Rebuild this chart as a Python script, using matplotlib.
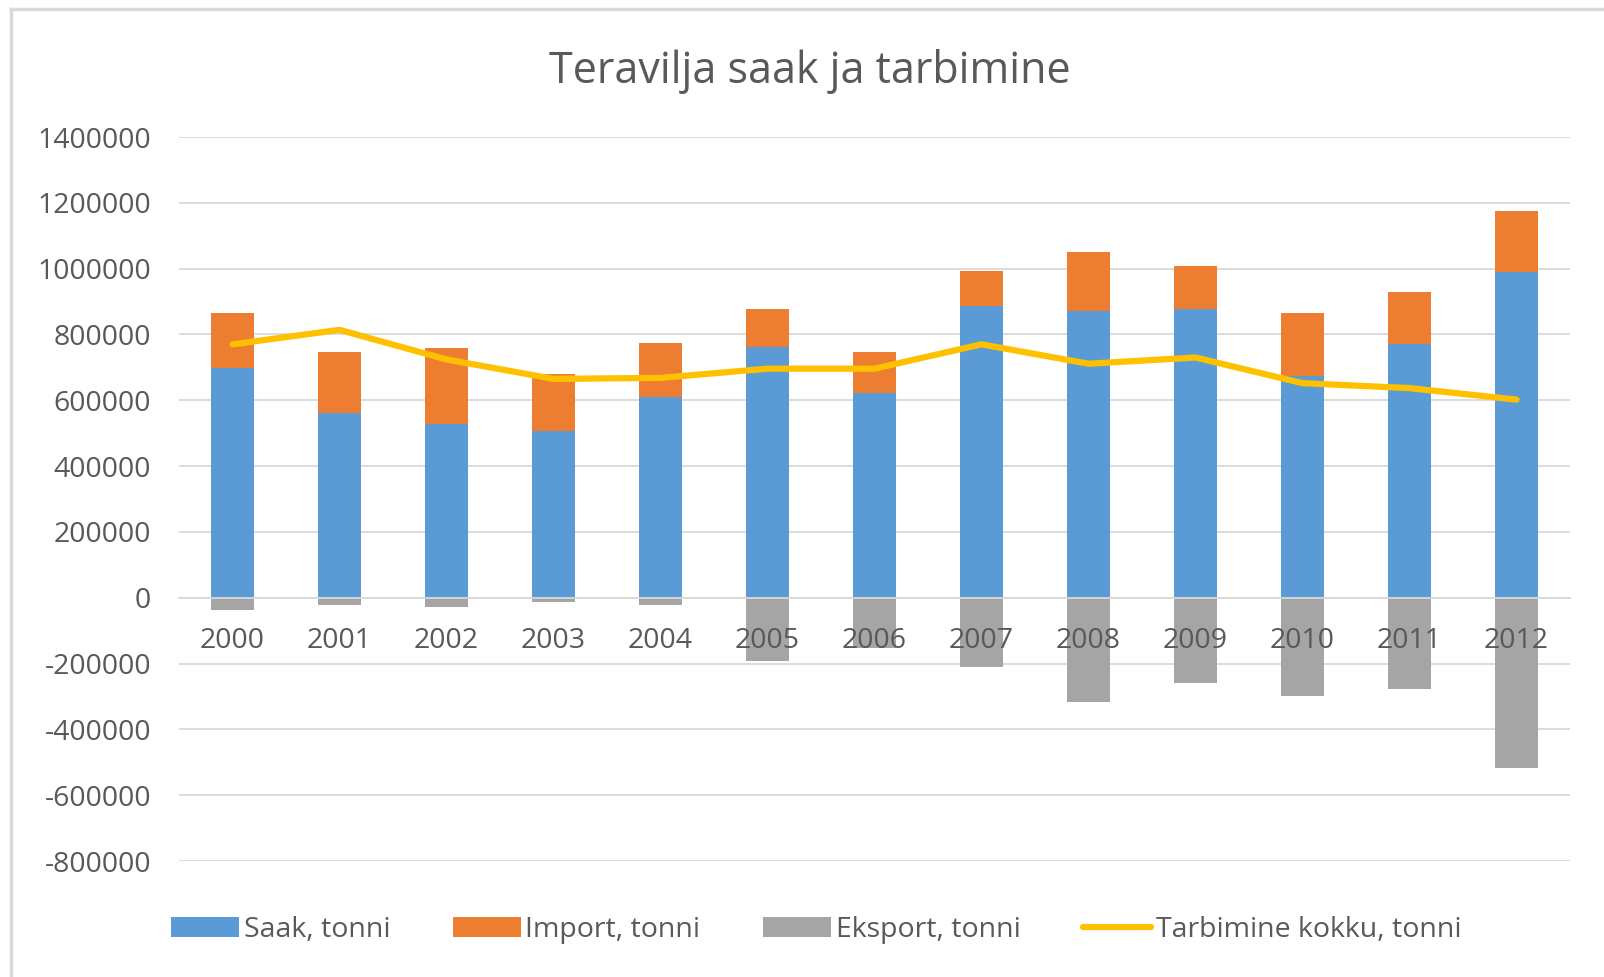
import matplotlib.pyplot as plt
from matplotlib.lines import Line2D

years = [str(y) for y in range(2000, 2013)]
saak = [699000, 562000, 528000, 506000, 609000, 761000, 621000, 885000, 870000, 876000, 674000, 770000, 991000]
imp = [167000, 186000, 230000, 174000, 164000, 115000, 127000, 109000, 180000, 133000, 192000, 159000, 183000]
eksport = [-37000, -22000, -28000, -12000, -22000, -191000, -152000, -211000, -317000, -258000, -298000, -276000, -516000]
tarbimine = [770000, 814000, 724000, 665000, 668000, 696000, 696000, 770000, 711000, 730000, 652000, 637000, 602000]

plt.rcParams['font.family'] = ['Open Sans', 'DejaVu Sans']
txt = '#595959'

fig = plt.figure(figsize=(16.04, 9.77), dpi=100)
ax = fig.add_axes([179 / 1604, 1 - 861 / 977, (1570 - 179) / 1604, (861 - 137) / 977])

# chart border, only left and top show in the reference
fig.add_artist(Line2D([11 / 1604, 11 / 1604], [0, 1 - 9 / 977], transform=fig.transFigure,
                      color='#d9d9d9', linewidth=2.5))
fig.add_artist(Line2D([11 / 1604, 1], [1 - 9 / 977, 1 - 9 / 977], transform=fig.transFigure,
                      color='#d9d9d9', linewidth=2.5))

x = list(range(len(years)))
w = 0.4
b1 = ax.bar(x, saak, w, color='#5b9bd5', label='Saak, tonni', zorder=2)
b2 = ax.bar(x, imp, w, bottom=saak, color='#ed7d31', label='Import, tonni', zorder=2)
b3 = ax.bar(x, eksport, w, color='#a5a5a5', label='Eksport, tonni', zorder=2)
ln, = ax.plot(x, tarbimine, color='#ffc000', linewidth=4.5, solid_capstyle='round',
              label='Tarbimine kokku, tonni', zorder=3)

ax.set_xlim(-0.5, 12.5)
ax.set_ylim(-800000, 1400000)
ax.set_yticks(range(-800000, 1400001, 200000))
ax.set_yticklabels([str(v) for v in range(-800000, 1400001, 200000)])
ax.yaxis.grid(True, color='#d9d9d9', linewidth=1.3, zorder=0)
ax.set_axisbelow(True)

for s in ['top', 'right', 'left']:
    ax.spines[s].set_visible(False)
ax.spines['bottom'].set_position(('data', 0))
ax.spines['bottom'].set_color('#d9d9d9')
ax.spines['bottom'].set_linewidth(1.3)
ax.spines['bottom'].set_zorder(2.5)

# year labels sit on top of the export bars
ax.set_xticks(x)
ax.set_xticklabels([])
ax.tick_params(axis='x', length=0)
for i, yr in zip(x, years):
    ax.annotate(yr, (i, 0), xytext=(0, -31), textcoords='offset points',
                ha='center', va='center', fontsize=20.5, color=txt, zorder=5)
ax.tick_params(axis='y', length=0, pad=20, labelsize=20.5, labelcolor=txt)

fig.text(0.505, 1 - 72 / 977, 'Teravilja saak ja tarbimine', fontsize=31, color=txt,
         ha='center', va='center')

ax.legend([b1, b2, b3, ln], [h.get_label() for h in [b1, b2, b3, ln]],
          loc='upper center', bbox_to_anchor=(0.458, -0.041), ncol=4, frameon=False,
          fontsize=20.5, labelcolor=txt, handlelength=2.4, handleheight=0.7,
          handletextpad=0.15, columnspacing=2.2)

fig.savefig('out.png', dpi=100)
